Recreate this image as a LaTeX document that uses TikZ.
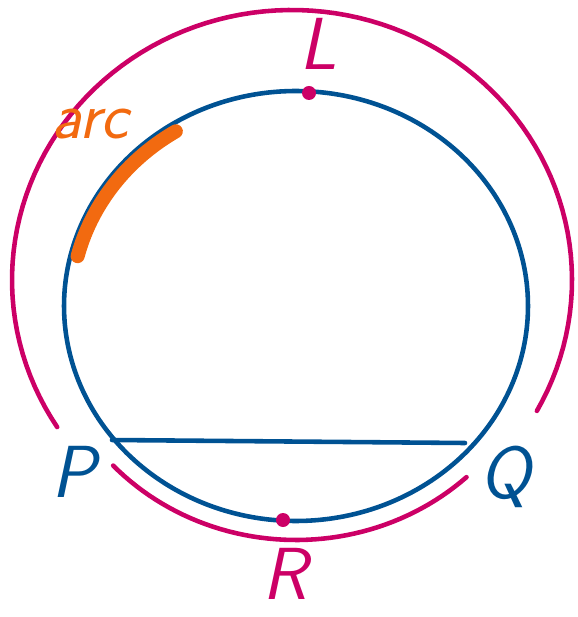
\documentclass[tikz,border=0pt]{standalone}
\definecolor{bluepen}{RGB}{0,82,147}
\definecolor{pinkpen}{RGB}{204,0,102}
\definecolor{orangepen}{RGB}{242,106,16}
\begin{document}
\begin{tikzpicture}[x=.02cm, y=-.02cm, line cap=round, line join=round,
	pen/.style={line width=2.6pt},
	lab/.style={inner sep=0pt, font=\fontsize{42}{42}\selectfont\sffamily\slshape}]
	\useasboundingbox (0,0) rectangle (577,617);
	\draw[pen, bluepen] plot[domain=0:360, samples=120, smooth cycle] ({296+232*cos(\x)}, {306+215*sin(\x)}); % vong tron
	\draw[line width=8pt, orangepen] plot[domain=194:238, samples=30] ({294+223*cos(\x)}, {306+206*sin(\x)}); % cung to mau
	\coordinate (A) at (112,440);
	\coordinate (B) at (465,443);
	\draw[pen, bluepen] (A) -- (B); % day PQ
	\draw[pen, pinkpen] plot[domain=147:389, samples=100] ({292+280*cos(\x)}, {280+270*sin(\x)}); % cung lon
	\draw[pen, pinkpen] plot[domain=47:137, samples=50] ({296+250*cos(\x)}, {306+234*sin(\x)}); % cung nho
	\coordinate (Ldot) at (309,93);
	\coordinate (Rdot) at (283,520);
	\fill[pinkpen] (Ldot) circle[radius=7];
	\fill[pinkpen] (Rdot) circle[radius=7];
	\node[lab, pinkpen] (L) at (318,44) {L};
	\node[lab, pinkpen] (R) at (285,574) {R};
	\node[lab, bluepen] (P) at (74,472) {P};
	\node[lab, bluepen] (Q) at (505,477) {Q};
	\node[lab, orangepen, font=\fontsize{38}{38}\selectfont\sffamily\slshape] (arc) at (90,124) {arc};
\end{tikzpicture}
\end{document}
